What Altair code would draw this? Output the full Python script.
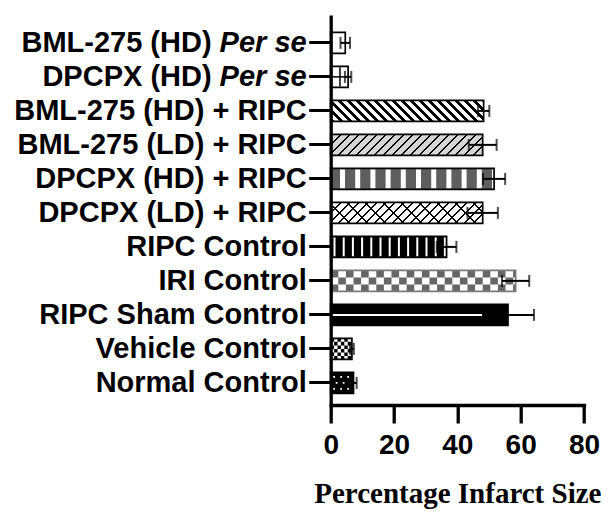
import altair as alt
import pandas as pd

# ---------------- data ----------------
categories = [
    "BML-275 (HD) Per se", "DPCPX (HD) Per se", "BML-275 (HD) + RIPC",
    "BML-275 (LD) + RIPC", "DPCPX (HD) + RIPC", "DPCPX (LD) + RIPC",
    "RIPC Control", "IRI Control", "RIPC Sham Control",
    "Vehicle Control", "Normal Control",
]
label_main = [
    "BML-275 (HD)", "DPCPX (HD)", "BML-275 (HD) + RIPC",
    "BML-275 (LD) + RIPC", "DPCPX (HD) + RIPC", "DPCPX (LD) + RIPC",
    "RIPC Control", "IRI Control", "RIPC Sham Control",
    "Vehicle Control", "Normal Control",
]
label_italic = ["Per se", "Per se", "", "", "", "", "", "", "", "", ""]
means = [4.6, 5.5, 48.3, 48.0, 51.6, 48.0, 36.6, 58.4, 56.0, 6.7, 7.2]
sems = [1.5, 1.0, 1.8, 4.4, 3.5, 4.8, 3.1, 4.3, 8.2, 0.6, 1.0]
x_ticks = [0, 20, 40, 60, 80]
x_title = "Percentage Infarct Size"

df = pd.DataFrame({"cat": categories, "main": label_main, "ital": label_italic,
                   "mean": means, "sem": sems})
df["lo"] = df["mean"] - df["sem"]
df["hi"] = df["mean"] + df["sem"]

# ---------------- geometry / style ----------------
W_PLOT = 253.3
H_PLOT = 390
PX = W_PLOT / 80.0
PAD_IN, PAD_OUT, ALIGN = 0.38, 0.425, 0.6
STEP = H_PLOT / (len(categories) - PAD_IN + 2 * PAD_OUT)
BW = STEP * (1 - PAD_IN)
SANS = "Liberation Sans"
SERIF = "Liberation Serif"
LBL = 29

yscale = alt.Scale(domain=categories, paddingInner=PAD_IN, paddingOuter=PAD_OUT, align=ALIGN)
yaxis = alt.Axis(labels=False, title=None, grid=False, domainWidth=3.3, domainColor="black",
                 tickColor="black", tickWidth=3, tickSize=22, zindex=1)
xscale = alt.Scale(domain=[0, 80], nice=False, zero=True)
xaxis = alt.Axis(values=x_ticks, title=x_title, grid=False, domainWidth=3.3, domainColor="black",
                 domainCap="square", tickColor="black", tickWidth=3.3, tickSize=18,
                 labelFont=SANS, labelFontSize=28, labelFontWeight="bold", labelColor="black",
                 labelPadding=8, labelFlush=False, titleFont=SERIF, titleFontSize=29,
                 titleFontWeight="bold", titleColor="black", titlePadding=20, zindex=1)

Y = alt.Y("cat:N", sort=categories, scale=yscale, axis=yaxis)


def X(field):
    return alt.X(field, scale=xscale, axis=xaxis)


base = alt.Chart(df).transform_calculate(z0="0")


def only(name):
    return base.transform_filter(alt.datum.cat == name)


def diag(value, period, frac, line, bg, slash=True):
    W = value * PX
    H = BW
    k = (W + H) / (W * W + H * H)
    tp = period / (W + H)
    stops = []
    t = 0.0
    while t < 1:
        a = min(t, 1.0)
        b = min(t + frac * tp, 1.0)
        c = min(t + tp, 1.0)
        stops += [(a, line), (b, line), (b, bg), (c, bg)]
        t += tp
    if slash:
        x1, y1, x2, y2 = 0, 0, k * W, k * H
    else:
        x1, y1, x2, y2 = 0, 1, k * W, 1 - k * H
    return {"gradient": "linear", "x1": x1, "y1": y1, "x2": x2, "y2": y2,
            "stops": [{"offset": round(o, 6), "color": col} for o, col in stops]}


def mean_of(name):
    return means[categories.index(name)]


layers = []

# plain fills
plain = {
    "BML-275 (HD) Per se": "white",
    "DPCPX (HD) Per se": "white",
    "DPCPX (HD) + RIPC": "#5e5e5e",
    "RIPC Control": "black",
    "IRI Control": "white",
    "RIPC Sham Control": "black",
    "Vehicle Control": "white",
    "Normal Control": "black",
}
for name, col in plain.items():
    layers.append(only(name).mark_bar(fill=col).encode(x=X("mean:Q"), y=Y))

# diagonal hatchings
layers.append(only("BML-275 (HD) + RIPC").mark_bar(
    fill=diag(mean_of("BML-275 (HD) + RIPC"), 9, 0.5, "black", "white", slash=False)
).encode(x=X("mean:Q"), y=Y))
layers.append(only("BML-275 (LD) + RIPC").mark_bar(
    fill=diag(mean_of("BML-275 (LD) + RIPC"), 9, 0.22, "black", "#d6d6d6", slash=True)
).encode(x=X("mean:Q"), y=Y))
layers.append(only("DPCPX (LD) + RIPC").mark_bar(
    fill=diag(mean_of("DPCPX (LD) + RIPC"), 9, 0.22, "black", "white", slash=True)
).encode(x=X("mean:Q"), y=Y))
layers.append(only("DPCPX (LD) + RIPC").mark_bar(
    fill=diag(mean_of("DPCPX (LD) + RIPC"), 18, 0.11, "black", "rgba(255,255,255,0)", slash=False)
).encode(x=X("mean:Q"), y=Y))


def stripe(name, color, width, dash, offset=0.0, yoff=0.0):
    return only(name).mark_rule(color=color, strokeWidth=width, strokeDash=dash,
                                strokeDashOffset=offset, yOffset=yoff, strokeCap="butt"
                                ).encode(x=X("z0:Q"), x2="mean:Q", y=Y)


# vertical stripes
layers.append(stripe("DPCPX (HD) + RIPC", "white", BW - 2, [5, 10.2], 5.9))
layers.append(stripe("RIPC Control", "white", BW - 2, [2, 7.2], 6.4))
layers.append(stripe("DPCPX (HD) Per se", "black", BW - 2, [1.5, 7.5], 0.5))
layers.append(only("DPCPX (HD) Per se").mark_rule(color="black", strokeWidth=1.5).encode(
    x=X("z0:Q"), x2="mean:Q", y=Y))

# checkerboards
rh = BW / 3
for r in range(3):
    layers.append(stripe("IRI Control", "#666666", rh, [7.6, 7.6],
                         0.0 if r % 2 == 0 else 7.6, (r - 1) * rh))
rv = BW / 6
for r in range(6):
    layers.append(stripe("Vehicle Control", "black", rv, [3.4, 3.4],
                         0.0 if r % 2 == 0 else 3.4, (r - 2.5) * rv))
# dots
for r, off in enumerate([-6, 0, 6]):
    layers.append(stripe("Normal Control", "white", 1.8, [1.8, 5.2],
                         -2.5 if r % 2 == 0 else -5.0, off))

# outlines
layers.append(base.mark_bar(fillOpacity=0, strokeWidth=1.7).encode(
    x=X("mean:Q"), y=Y,
    stroke=alt.condition(alt.datum.cat == "IRI Control", alt.value("#7a7a7a"), alt.value("black"))))

# error bars
layers.append(base.mark_rule(color="black", strokeWidth=2).encode(x=X("lo:Q"), x2="hi:Q", y=Y))
layers.append(base.mark_tick(color="black", thickness=2, size=12).encode(x=X("lo:Q"), y=Y))
layers.append(base.mark_tick(color="black", thickness=2, size=12).encode(x=X("hi:Q"), y=Y))
layers.append(only("RIPC Sham Control").mark_rule(color="white", strokeWidth=2).encode(
    x=X("z0:Q"), x2="lo:Q", y=Y))

# category labels (with italic "Per se")
ITAL_W = 3.002 * LBL
SPACE_W = 0.278 * LBL
txt = dict(baseline="middle", font=SANS, fontWeight="bold", fontSize=LBL, color="black", align="right")
layers.append(base.transform_filter(alt.datum.ital == "").mark_text(**txt).encode(
    y=Y, x=alt.value(-24), text="main:N"))
layers.append(base.transform_filter(alt.datum.ital != "").mark_text(**txt).encode(
    y=Y, x=alt.value(-24 - ITAL_W - SPACE_W), text="main:N"))
layers.append(base.transform_filter(alt.datum.ital != "").mark_text(fontStyle="italic", **txt).encode(
    y=Y, x=alt.value(-24), text="ital:N"))

chart = alt.layer(*layers).properties(
    width=W_PLOT, height=H_PLOT,
    padding={"left": 330.7, "top": 15, "right": 27, "bottom": 109},
    autosize=alt.AutoSizeParams(type="none"),
    background="white",
).configure_view(stroke=None)

chart.save("out.html", embed_options={"renderer": "svg", "actions": False})
